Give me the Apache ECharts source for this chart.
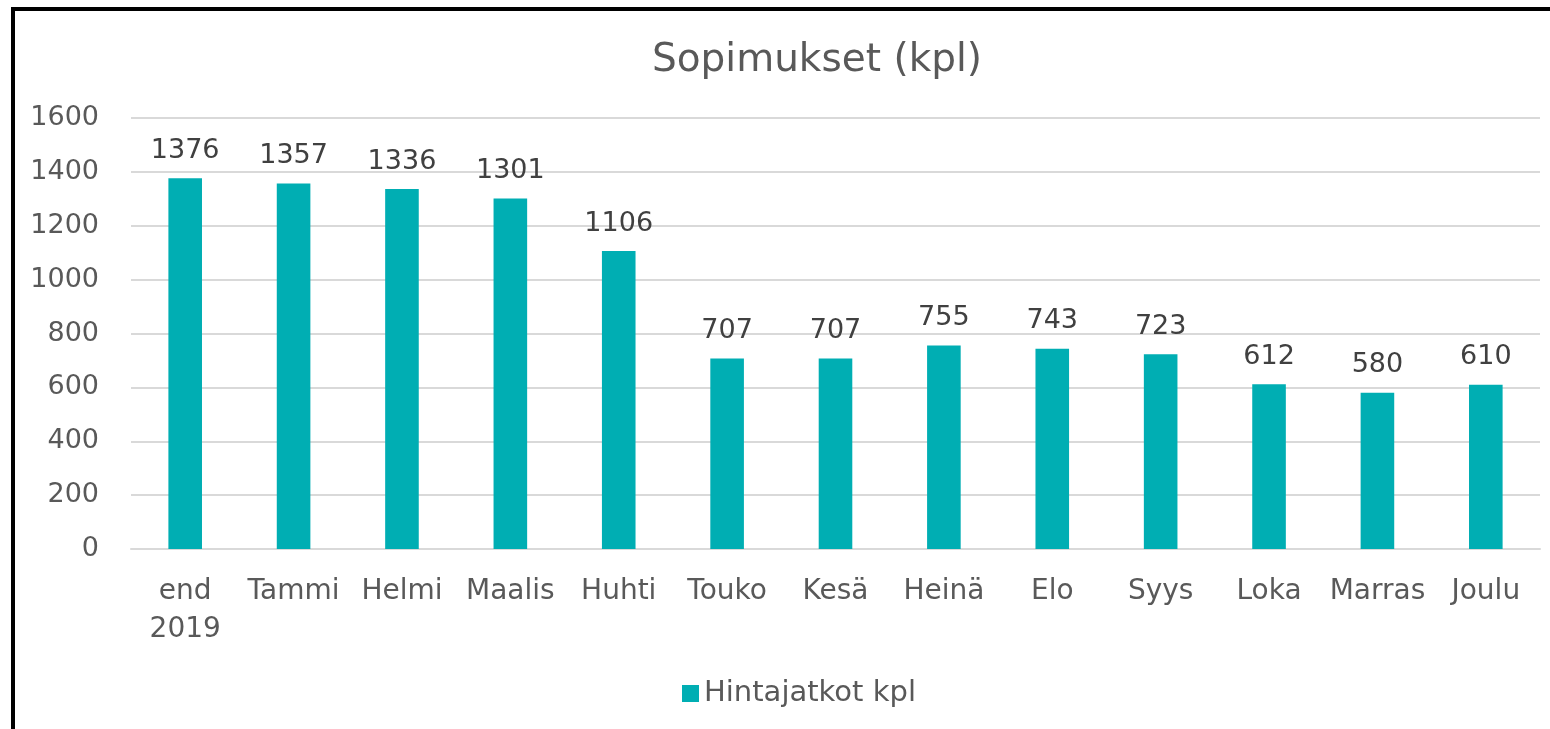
<!DOCTYPE html>
<html><head><meta charset="utf-8">
<script src="https://cdn.jsdelivr.net/npm/echarts@6/dist/echarts.min.js"></script>
<style>html,body{margin:0;padding:0;background:#fff}#c{width:1550px;height:729px}</style>
</head><body><div id="c"></div>
<script>
const categories = ['end\n2019','Tammi','Helmi','Maalis','Huhti','Touko','Kesä','Heinä','Elo','Syys','Loka','Marras','Joulu'];
const values = [1376,1357,1336,1301,1106,707,707,755,743,723,612,580,610];
const seriesName = 'Hintajatkot kpl';
const titleText = 'Sopimukset (kpl)';

const font = 'DejaVu Sans';
const chart = echarts.init(document.getElementById('c'));
chart.setOption({
  animation:false,
  textStyle:{fontFamily:font},
  title:{text:titleText,left:812,textAlign:'center',top:36,textStyle:{fontFamily:font,fontSize:39,fontWeight:'normal',color:'#595959'}},
  grid:{left:131,right:10,top:118,bottom:180,containLabel:false},
  legend:{bottom:16,left:677,itemWidth:17,itemHeight:17,icon:'rect',itemGap:8,
    textStyle:{fontFamily:font,fontSize:29,color:'#595959'},data:[seriesName]},
  xAxis:{type:'category',data:categories,
    axisLine:{lineStyle:{color:'#d9d9d9',width:2}},axisTick:{show:false},
    axisLabel:{fontFamily:font,fontSize:28,color:'#595959',margin:24,lineHeight:38,interval:0}},
  yAxis:{type:'value',min:0,max:1600,interval:200,
    axisLine:{show:false},axisTick:{show:false},
    splitLine:{lineStyle:{color:'#d9d9d9',width:2}},
    axisLabel:{fontFamily:font,fontSize:27,color:'#595959',margin:32,formatter:v=>String(v)}},
  series:[{name:seriesName,type:'bar',data:values,barWidth:'31%',
    itemStyle:{color:'#00AEB3'},
    label:{show:true,position:'top',distance:14,fontFamily:font,fontSize:27,color:'#404040'}}],
  graphic:[
    {type:'rect',shape:{x:11,y:7,width:4,height:722},style:{fill:'#000'}},
    {type:'rect',shape:{x:11,y:7,width:1539,height:4},style:{fill:'#000'}}
  ]
});
</script></body></html>
